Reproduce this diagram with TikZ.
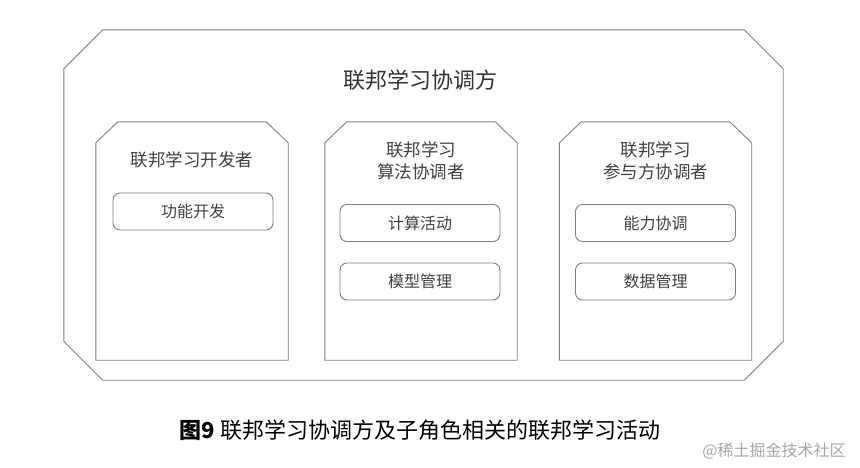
\documentclass[tikz,border=0pt]{standalone}
\usepackage{fontspec}
\setmainfont{Noto Sans CJK SC}

\begin{document}
\begin{tikzpicture}[x=1pt,y=-1pt,
			frame/.style={draw=black!50, line width=0.9pt},
			party/.style={inner sep=0pt, minimum width=719pt, minimum height=350pt},
			role/.style={inner sep=0pt, minimum width=192pt, minimum height=238pt},
			rolename/.style={text=black!75, align=center, inner sep=0pt,
				font=\fontsize{17.5}{22}\selectfont},
			task/.style={frame, rounded corners=7pt, minimum width=160pt,
				minimum height=37pt, inner sep=0pt, text=black!75,
				font=\fontsize{16}{19}\selectfont}]
			\useasboundingbox (0,0) rectangle (860,467);
			\node[party] (coord) at (423.5,205) {};
			\draw[frame] ([xshift=39pt]coord.north west) -- ([xshift=-39pt]coord.north east)
				-- ([yshift=-39pt]coord.north east) -- ([yshift=39pt]coord.south east)
				-- ([xshift=-39pt]coord.south east) -- ([xshift=39pt]coord.south west)
				-- ([yshift=39pt]coord.south west) -- ([yshift=-39pt]coord.north west) -- cycle;
			\node[text=black!80, font=\fontsize{22}{26}\selectfont] (coordname) at (420,80) {联邦学习协调方};

			\node[role] (dev) at (192,241) {};
			\node[role] (algo) at (421,241) {};
			\node[role] (part) at (655.5,241) {};
			\foreach \r in {dev,algo,part}
				\draw[frame] ([xshift=22pt]\r.north west) -- ([xshift=-22pt]\r.north east)
					-- ([yshift=-21pt]\r.north east) -- (\r.south east)
					-- (\r.south west) -- ([yshift=-21pt]\r.north west) -- cycle;

			\node[rolename] (devname) at (192,160) {联邦学习开发者};
			\node[rolename] (algoname) at (421,161) {联邦学习\\算法协调者};
			\node[rolename] (partname) at (655.5,161) {联邦学习\\参与方协调者};

			\node[task] (func) at (193,211.5) {功能开发};
			\node[task] (calc) at (420,223) {计算活动};
			\node[task] (model) at (420,281.5) {模型管理};
			\node[task] (ability) at (655.5,223) {能力协调};
			\node[task] (data) at (655.5,281.5) {数据管理};

			\node[font=\fontsize{22}{26}\selectfont] (caption) at (420,430) {\textbf{图9} 联邦学习协调方及子角色相关的联邦学习活动};
			\node[text=black!35, font=\fontsize{16}{19}\selectfont] (mark) at (774,451) {@稀土掘金技术社区};
		\end{tikzpicture}
\end{document}
